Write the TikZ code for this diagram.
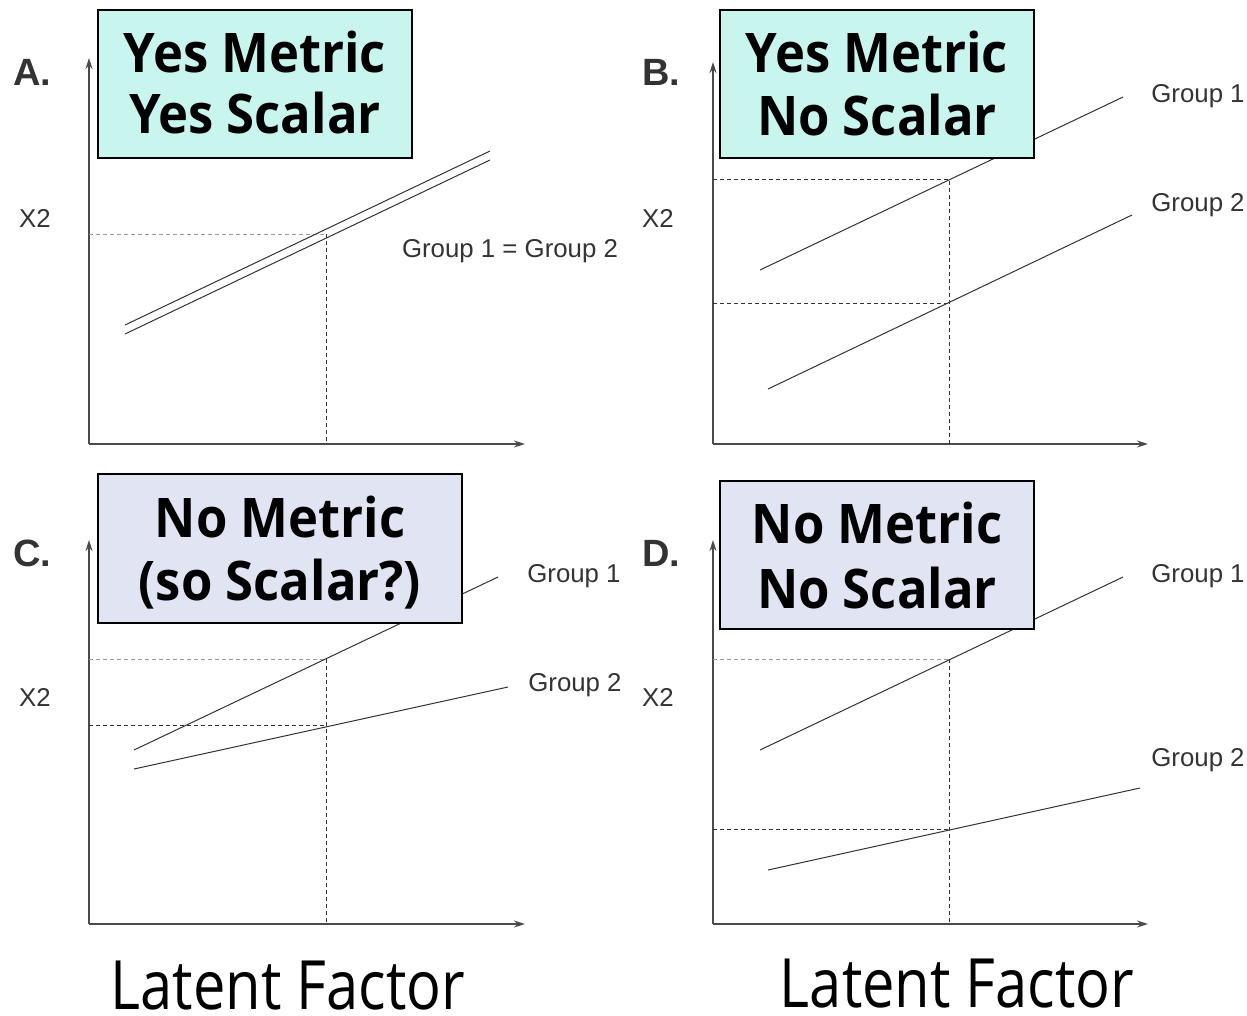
\documentclass[tikz,border=0pt]{standalone}
\usepackage{fontspec}
\setmainfont{Liberation Sans}
\newfontfamily\boxfont[FakeStretch=0.93]{Open Sans}
\newfontfamily\capfont[FakeStretch=0.85]{Open Sans}
\usetikzlibrary{arrows.meta}
\definecolor{ink}{HTML}{333333}
\definecolor{axisgray}{HTML}{4A4A4A}
\definecolor{lightdash}{HTML}{9A9A9A}
\definecolor{yesfill}{HTML}{C9F5EF}
\definecolor{nofill}{HTML}{E1E5F3}
\tikzset{
  axis/.style={draw=axisgray, line width=1.4pt, -{Stealth[length=11pt,width=7pt]}},
  trend/.style={draw=ink, line width=1pt},
  guide/.style={draw=ink, line width=0.9pt, dash pattern=on 4pt off 3pt},
  guidelight/.style={guide, draw=lightdash},
  titlebox/.style={draw=black, line width=1.8pt},
  boxtext/.style={font=\boxfont\bfseries\fontsize{54.6}{60}\selectfont, anchor=base, inner sep=0pt},
  grouplab/.style={font=\fontsize{25.8}{30}\selectfont, text=ink, inner sep=0pt},
  panellab/.style={font=\bfseries\fontsize{38}{44}\selectfont, text=ink, inner sep=0pt},
  captext/.style={font=\capfont\fontsize{68}{78}\selectfont, anchor=base, inner sep=0pt}
}
\begin{document}
\begin{tikzpicture}[x=1pt, y=-1pt]
\useasboundingbox (0,0) rectangle (1247,1015);

% ---------- Panel A ----------
\coordinate (Ao) at (89,444);
\coordinate (Ay) at (89,58);
\coordinate (Ax) at (525,444);
\draw[axis] (Ao) -- (Ay);
\draw[axis] (Ao) -- (Ax);
\coordinate (Ah) at (89,234);
\coordinate (Ap) at (326,234);
\coordinate (Ab) at (326,444);
\draw[guidelight] (Ah) -- (Ap);
\draw[guide] (Ap) -- (Ab);
\coordinate (A1s) at (125,325); \coordinate (A1e) at (490,151);
\coordinate (A2s) at (125,334); \coordinate (A2e) at (490,160);
\draw[trend] (A1s) -- (A1e);
\draw[trend] (A2s) -- (A2e);
\node[grouplab] (Aeq) at (510,251) {Group 1 = Group 2};
\node[grouplab] (Ax2) at (35,218) {X2};
\node[panellab] (Alab) at (32,72) {A.};

% ---------- Panel B ----------
\coordinate (Bo) at (713,444);
\coordinate (By) at (713,62);
\coordinate (Bx) at (1148,444);
\draw[axis] (Bo) -- (By);
\draw[axis] (Bo) -- (Bx);
\coordinate (Bh1) at (713,179); \coordinate (Bp1) at (949,179);
\coordinate (Bh2) at (713,303); \coordinate (Bp2) at (949,303);
\coordinate (Bb) at (949,444);
\draw[guide] (Bh1) -- (Bp1) -- (Bb);
\draw[guide] (Bh2) -- (Bp2);
\coordinate (B1s) at (760,270); \coordinate (B1e) at (1123,97);
\coordinate (B2s) at (768,389); \coordinate (B2e) at (1132,215);
\draw[trend] (B1s) -- (B1e);
\draw[trend] (B2s) -- (B2e);
\node[grouplab] (Bg1) at (1198,96) {Group 1};
\node[grouplab] (Bg2) at (1198,205) {Group 2};
\node[grouplab] (Bx2) at (658,218) {X2};
\node[panellab] (Blab) at (661,72) {B.};

% ---------- Panel C ----------
\coordinate (Co) at (89,924);
\coordinate (Cy) at (89,540);
\coordinate (Cx) at (525,924);
\draw[axis] (Co) -- (Cy);
\draw[axis] (Co) -- (Cx);
\coordinate (Ch1) at (89,659); \coordinate (Cp1) at (326,659);
\coordinate (Ch2) at (89,725); \coordinate (Cp2) at (326,725);
\coordinate (Cb) at (326,924);
\draw[guidelight] (Ch1) -- (Cp1);
\draw[guide] (Cp1) -- (Cb);
\draw[guide] (Ch2) -- (Cp2);
\coordinate (C1s) at (134,750); \coordinate (C1e) at (498,577);
\coordinate (C2s) at (134,769); \coordinate (C2e) at (508,687);
\draw[trend] (C1s) -- (C1e);
\draw[trend] (C2s) -- (C2e);
\node[grouplab] (Cg1) at (574,576) {Group 1};
\node[grouplab] (Cg2) at (575,685) {Group 2};
\node[grouplab] (Cx2) at (35,697) {X2};
\node[panellab] (Clab) at (32,553) {C.};

% ---------- Panel D ----------
\coordinate (Do) at (713,924);
\coordinate (Dy) at (713,540);
\coordinate (Dx) at (1148,924);
\draw[axis] (Do) -- (Dy);
\draw[axis] (Do) -- (Dx);
\coordinate (Dh1) at (713,659); \coordinate (Dp1) at (949,659);
\coordinate (Dh2) at (713,829); \coordinate (Dp2) at (949,829);
\coordinate (Db) at (949,924);
\draw[guidelight] (Dh1) -- (Dp1);
\draw[guide] (Dp1) -- (Db);
\draw[guide] (Dh2) -- (Dp2);
\coordinate (D1s) at (760,750); \coordinate (D1e) at (1123,577);
\coordinate (D2s) at (768,870); \coordinate (D2e) at (1140,788);
\draw[trend] (D1s) -- (D1e);
\draw[trend] (D2s) -- (D2e);
\node[grouplab] (Dg1) at (1198,576) {Group 1};
\node[grouplab] (Dg2) at (1198,760) {Group 2};
\node[grouplab] (Dx2) at (658,697) {X2};
\node[panellab] (Dlab) at (661,553) {D.};

% ---------- Title boxes (drawn over the trend lines) ----------
\draw[titlebox, fill=yesfill] (98,10) rectangle (412,158);
\node[boxtext] (At1) at (255,72) {Yes Metric};
\node[boxtext] (At2) at (255,133) {Yes Scalar};

\draw[titlebox, fill=yesfill] (720,10) rectangle (1034,158);
\node[boxtext] (Bt1) at (877,72) {Yes Metric};
\node[boxtext] (Bt2) at (877,135) {No Scalar};

\draw[titlebox, fill=nofill] (98,474) rectangle (462,623);
\node[boxtext] (Ct1) at (280,537) {No Metric};
\node[boxtext] (Ct2) at (280,600) {(so Scalar?)};

\draw[titlebox, fill=nofill] (720,481) rectangle (1034,629);
\node[boxtext] (Dt1) at (877,543) {No Metric};
\node[boxtext] (Dt2) at (877,608) {No Scalar};

% ---------- Axis captions ----------
\node[captext] (lf1) at (288,1009) {Latent Factor};
\node[captext] (lf2) at (957,1007) {Latent Factor};
\end{tikzpicture}
\end{document}
